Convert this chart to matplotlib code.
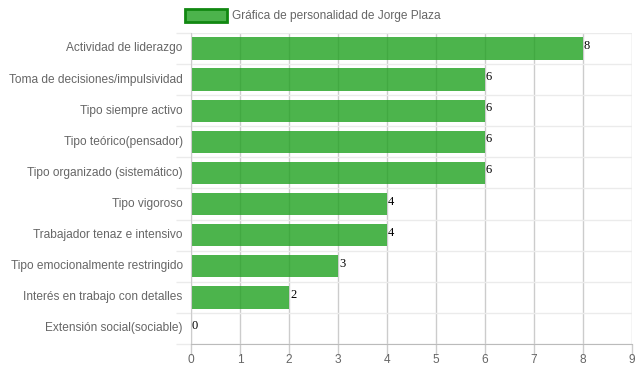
import matplotlib.pyplot as plt
import numpy as np
from matplotlib.patches import Rectangle

# datos
categorias = ['Actividad de liderazgo', 'Toma de decisiones/impulsividad',
              'Tipo siempre activo', 'Tipo teórico(pensador)',
              'Tipo organizado (sistemático)', 'Tipo vigoroso',
              'Trabajador tenaz e intensivo', 'Tipo emocionalmente restringido',
              'Interés en trabajo con detalles', 'Extensión social(sociable)']
valores = [8, 6, 6, 6, 6, 4, 4, 3, 2, 0]
titulo_serie = 'Gráfica de personalidad de Jorge Plaza'

plt.rcParams['font.family'] = ['Liberation Sans', 'DejaVu Sans']

fig = plt.figure(figsize=(6.39, 3.72), dpi=100)
ax = fig.add_axes([0.2989, 0.0753, 0.6901, 0.836])

pos = np.arange(len(categorias))
ax.barh(pos, valores, height=0.72, color=(0.12, 0.63, 0.12, 0.8),
        edgecolor='none', zorder=2, label=titulo_serie)

# etiquetas de valor
for p, v in zip(pos, valores):
    ax.text(v + 0.02, p - 0.08, str(v), fontsize=9, family='Liberation Serif',
            color='black', ha='left', va='center', zorder=3)

ax.set_xlim(0, 9)
ax.set_ylim(len(categorias) - 0.5, -0.5)
ax.set_xticks(range(10))
ax.set_yticks(pos - 0.05)
ax.set_yticklabels(categorias)
ax.set_yticks(np.arange(len(categorias) + 1) - 0.5, minor=True)

ax.tick_params(axis='y', which='major', length=0, pad=6, labelsize=8.6, labelcolor='#666666')
ax.tick_params(axis='y', which='minor', length=11, color='#ebebeb', width=1)
ax.tick_params(axis='x', length=8, color='#cccccc', width=1, labelsize=8.6,
               labelcolor='#666666', pad=-1)

ax.grid(axis='x', color='#cccccc', lw=1, zorder=1)
ax.grid(axis='y', which='minor', color='#ebebeb', lw=1, zorder=1)
ax.set_axisbelow(True)

for s in ['top', 'right']:
    ax.spines[s].set_visible(False)
ax.spines['left'].set_color('#cccccc')
ax.spines['bottom'].set_color('#bbbbbb')

# leyenda
fig.patches.append(Rectangle((185 / 639, 1 - 22 / 372), 42 / 639, 13 / 372,
                             transform=fig.transFigure, facecolor='#4cb34c',
                             edgecolor='#118811', lw=2))
fig.text(232 / 639, 1 - 15.5 / 372, titulo_serie, fontsize=8.6, color='#666666',
         ha='left', va='center')

plt.savefig('out.png', dpi=100)
